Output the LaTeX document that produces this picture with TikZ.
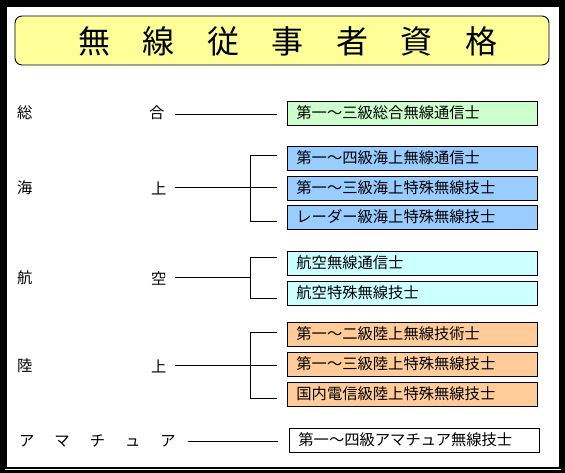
\documentclass[tikz,border=0pt]{standalone}
\usepackage{fontspec}
\setmainfont{Noto Sans CJK JP}
\definecolor{titleY}{HTML}{FFFF99}
\definecolor{gGreen}{HTML}{CCFFCC}
\definecolor{gBlue}{HTML}{99CCFF}
\definecolor{gCyan}{HTML}{CCFFFF}
\definecolor{gOrange}{HTML}{FFCC99}
\begin{document}
\begin{tikzpicture}[x=1pt,y=-1pt,
  qbox/.style={draw=black, line width=0.8pt, anchor=north west, minimum height=24pt,
    text width=232pt, inner xsep=9pt, inner ysep=0pt, align=left,
    font=\fontsize{15.3}{17}\selectfont, text height=12.5pt, text depth=3pt},
  lab/.style={font=\fontsize{15.3}{17}\selectfont, inner sep=0pt, anchor=west},
  conn/.style={draw=black, line width=0.7pt}]
\useasboundingbox (0,0) rectangle (565,473);
\fill[black] (0,0) rectangle (565,473);
\fill[white] (7,7) rectangle (559,467);
\draw[white, line width=1pt] (5,469.5) -- (561,469.5);
% title
\draw[black, line width=0.9pt, fill=titleY, rounded corners=7pt] (15,16) rectangle (549,65);
\node[font=\fontsize{32}{36}\selectfont, inner sep=0pt] (title) at (288,41)
  {無\hspace{32.5pt}線\hspace{32.5pt}従\hspace{32.5pt}事\hspace{32.5pt}者\hspace{32.5pt}資\hspace{32.5pt}格};
% left labels
\node[lab] (s1) at (17,113) {総};
\node[lab] (s2) at (149,113) {合};
\node[lab] (k1) at (17,188) {海};
\node[lab] (k2) at (151,188) {上};
\node[lab] (a1) at (17,278) {航};
\node[lab] (a2) at (151,278) {空};
\node[lab] (r1) at (17,366) {陸};
\node[lab] (r2) at (151,366) {上};
\node[lab] (am) at (19,441) {ア\hspace{20pt}マ\hspace{20pt}チ\hspace{20pt}ュ\hspace{20pt}ア};
% boxes
\node[qbox, fill=gGreen] (b1) at (287,101) {第一～三級総合無線通信士};
\node[qbox, fill=gBlue] (b2) at (287,146) {第一～四級海上無線通信士};
\node[qbox, fill=gBlue] (b3) at (287,176) {第一～三級海上特殊無線技士};
\node[qbox, fill=gBlue] (b4) at (287,205) {レーダー級海上特殊無線技士};
\node[qbox, fill=gCyan] (b5) at (287,251) {航空無線通信士};
\node[qbox, fill=gCyan] (b6) at (287,281) {航空特殊無線技士};
\node[qbox, fill=gOrange] (b7) at (287,322) {第一～二級陸上無線技術士};
\node[qbox, fill=gOrange] (b8) at (287,352) {第一～三級陸上特殊無線技士};
\node[qbox, fill=gOrange] (b9) at (287,382) {国内電信級陸上特殊無線技士};
\node[qbox, fill=white] (b10) at (289,428) {第一～四級アマチュア無線技士};
% connector coordinates
\coordinate (e1) at (277,114);
\coordinate (jk) at (250,187);
\coordinate (k2t) at (277,155);
\coordinate (k2m) at (277,187);
\coordinate (k2b) at (277,221);
\coordinate (ja) at (250,277);
\coordinate (a2t) at (277,257);
\coordinate (a2b) at (277,298);
\coordinate (jr) at (250,365);
\coordinate (r2t) at (277,332);
\coordinate (r2m) at (277,365);
\coordinate (r2b) at (277,398);
\coordinate (e10) at (278,441);
% connectors
\draw[conn] ([xshift=10pt]s2.east |- e1) -- (e1);
\draw[conn] ([xshift=8pt]k2.east |- jk) -- (jk);
\draw[conn] (jk |- k2t) -- (jk |- k2b);
\draw[conn] (jk |- k2t) -- (k2t);
\draw[conn] (jk) -- (k2m);
\draw[conn] (jk |- k2b) -- (k2b);
\draw[conn] ([xshift=8pt]a2.east |- ja) -- (ja);
\draw[conn] (ja |- a2t) -- (ja |- a2b);
\draw[conn] (ja |- a2t) -- (a2t);
\draw[conn] (ja |- a2b) -- (a2b);
\draw[conn] ([xshift=8pt]r2.east |- jr) -- (jr);
\draw[conn] (jr |- r2t) -- (jr |- r2b);
\draw[conn] (jr |- r2t) -- (r2t);
\draw[conn] (jr) -- (r2m);
\draw[conn] (jr |- r2b) -- (r2b);
\draw[conn] ([xshift=12pt]am.east |- e10) -- (e10);
\end{tikzpicture}
\end{document}
